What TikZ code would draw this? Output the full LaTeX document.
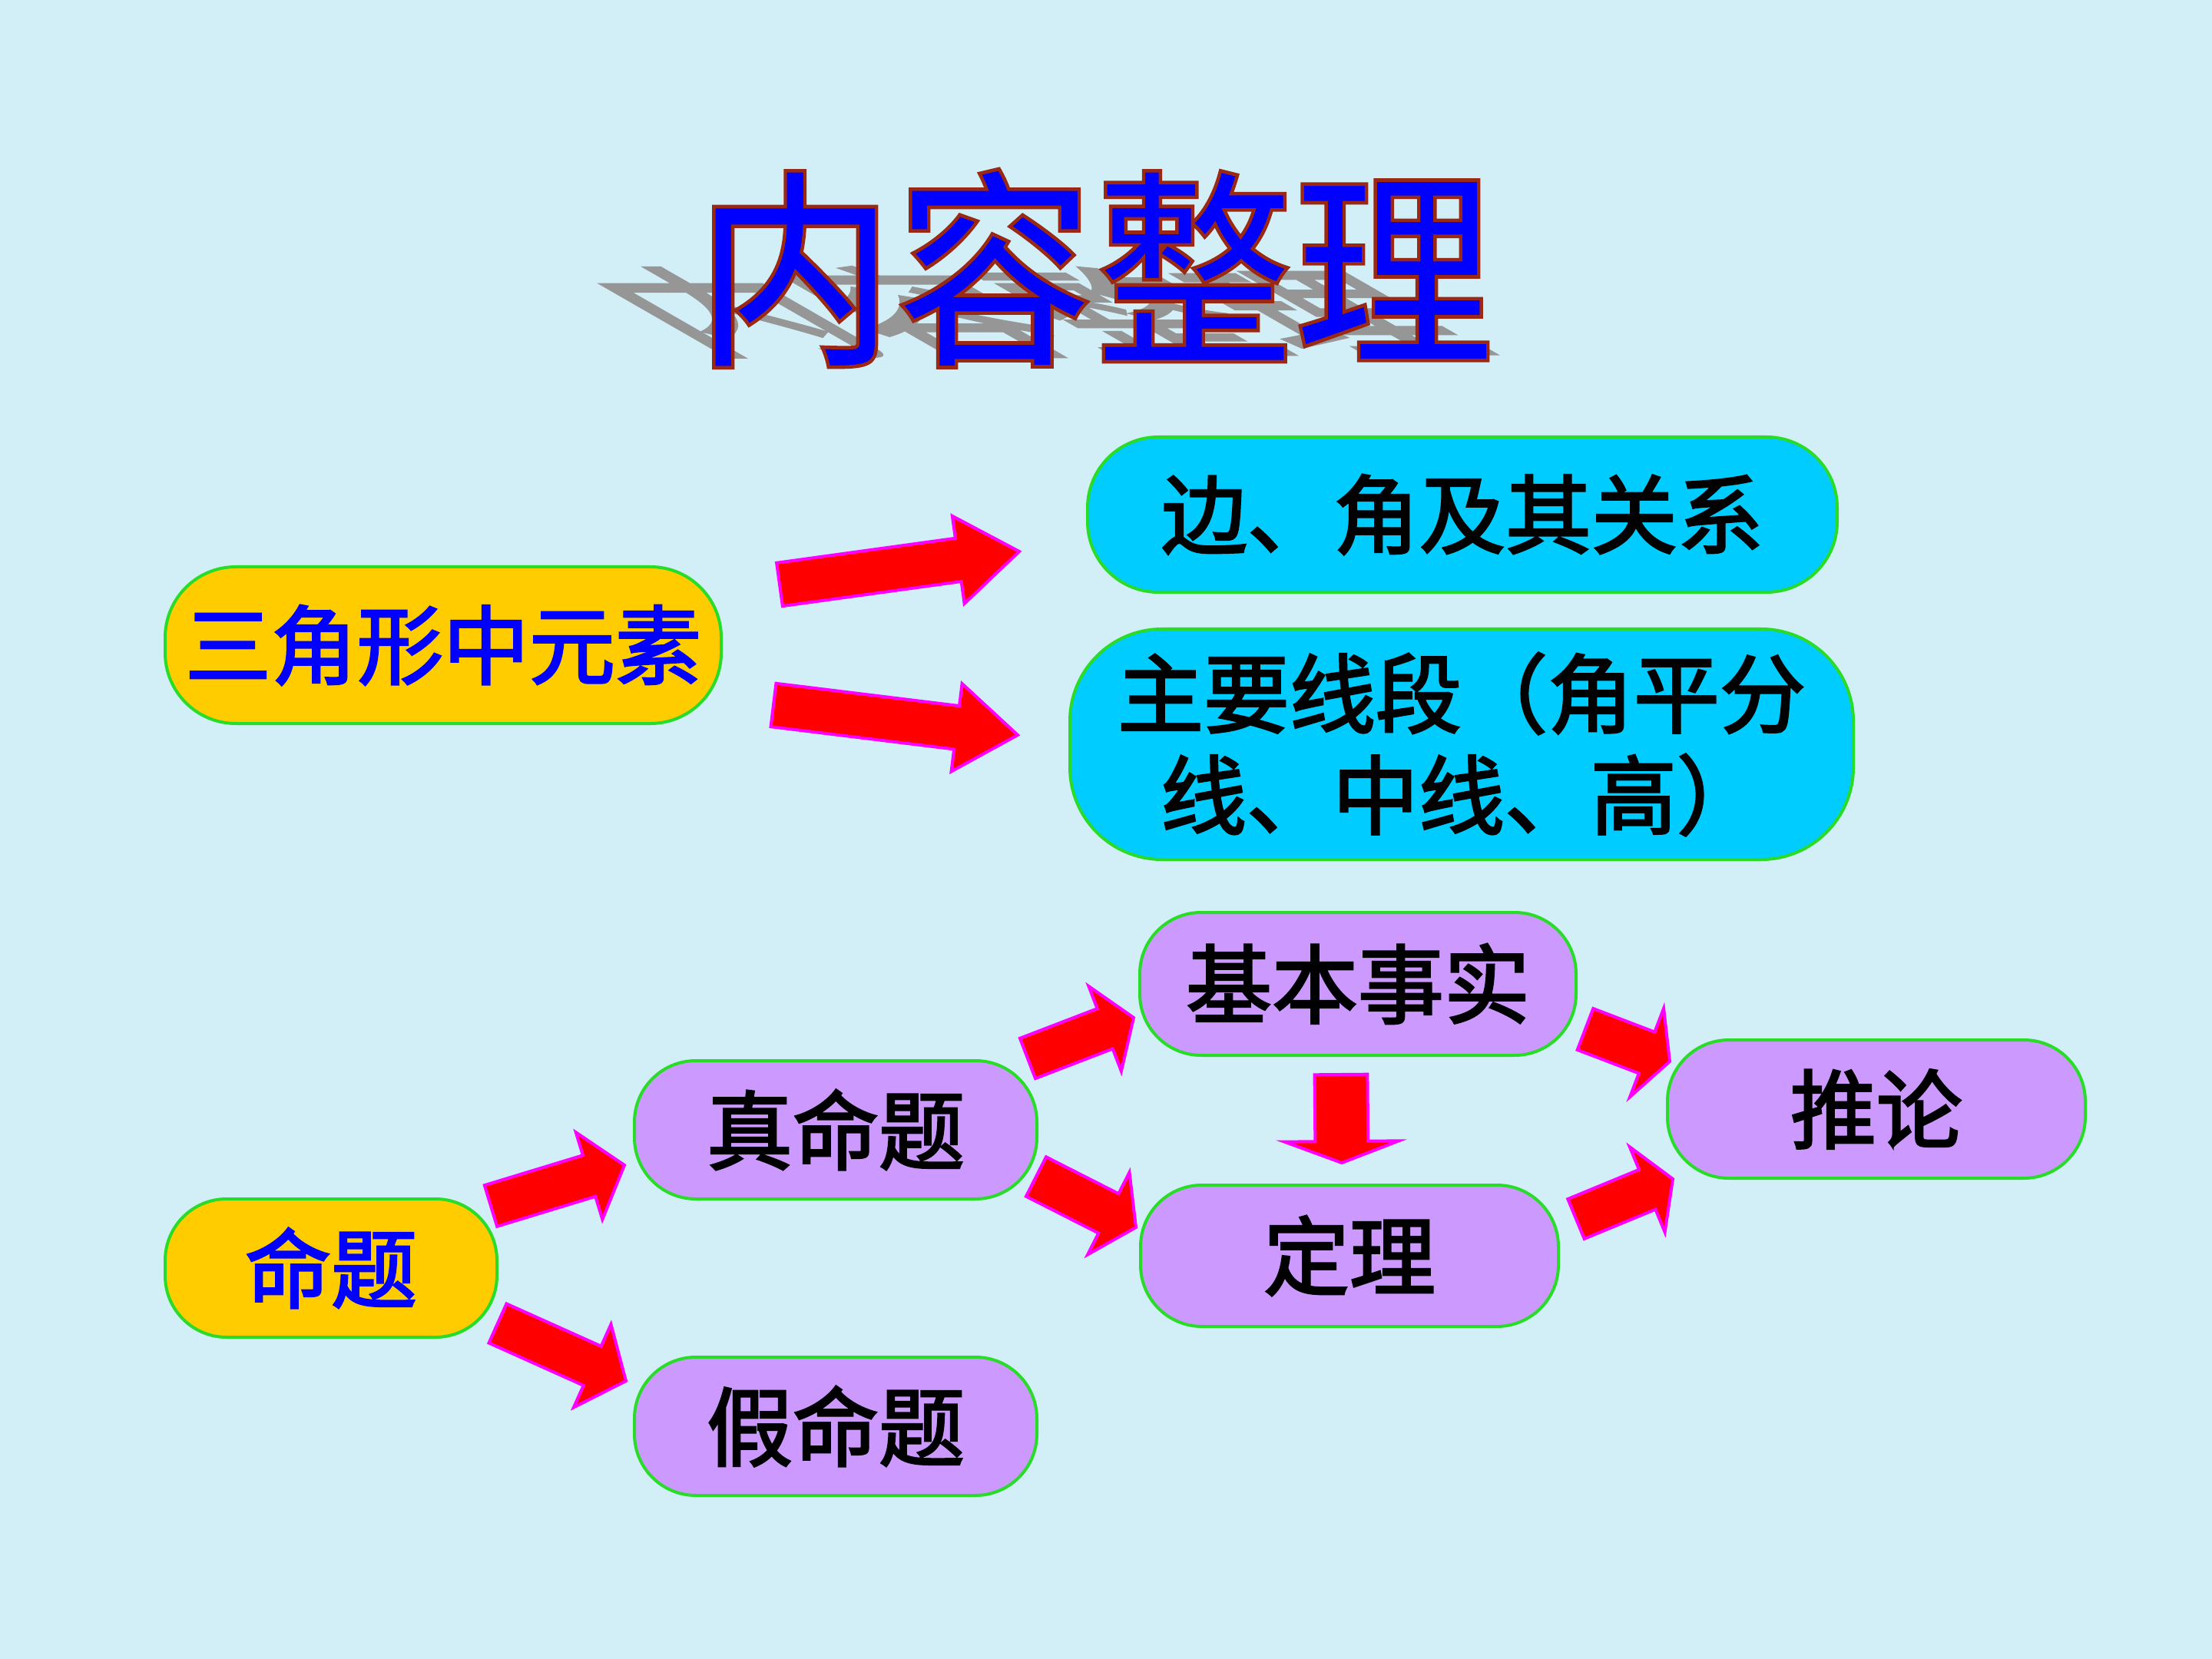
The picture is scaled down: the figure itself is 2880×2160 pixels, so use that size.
\documentclass[tikz,border=0pt]{standalone}
\usepackage{fontspec}
\usetikzlibrary{calc}
\newfontfamily\cjk{Noto Sans CJK SC}[UprightFont=* Medium]
\newfontfamily\cjkmid{Noto Sans CJK SC}[FakeBold=2.5]
\definecolor{bgblue}{RGB}{210,238,246}
\definecolor{boxline}{RGB}{40,220,40}
\definecolor{boxyellow}{RGB}{255,204,0}
\definecolor{boxcyan}{RGB}{0,204,255}
\definecolor{boxpurple}{RGB}{204,153,255}
\definecolor{textblue}{RGB}{0,0,255}
\definecolor{shadowgray}{RGB}{150,150,150}
\definecolor{arrowred}{RGB}{255,0,0}
\definecolor{arrowrim}{RGB}{255,0,255}
% outlined text: fill plus dark red stroke
\newcommand\rimtext[1]{\special{pdf:literal direct 2 Tr 0.6 0.16 0.08 RG 1.1 w}#1\special{pdf:literal direct 0 Tr}}

\tikzset{
  pill/.style={draw=boxline, line width=1pt, inner sep=0pt, align=center,
    rounded corners=20pt, font=\cjkmid\fontsize{28}{33}\selectfont},
  yellowpill/.style={pill, fill=boxyellow, text=textblue},
  cyanpill/.style={pill, fill=boxcyan, text=black},
  purplepill/.style={pill, fill=boxpurple, text=black},
  fatarrow/.style={fill=arrowred, draw=arrowrim, line width=1pt, line join=miter}
}

% tail, tip, half shaft, half head, head length
\newcommand\fatarrow[5]{%
  \coordinate (fa-base) at ($(#2)!#5!(#1)$);
  \draw[fatarrow] ($(#1)!#3!90:(#2)$) -- ($(fa-base)!#3!90:(#2)$)
    -- ($(fa-base)!#4!90:(#2)$) -- (#2)
    -- ($(fa-base)!#4!-90:(#2)$) -- ($(fa-base)!#3!-90:(#2)$)
    -- ($(#1)!#3!-90:(#2)$) -- cycle;
}

\begin{document}
\begin{tikzpicture}[x=0.25pt, y=-0.25pt]
  \useasboundingbox (0,0) rectangle (2880,2160);
  \fill[bgblue] (0,0) rectangle (2880,2160);

  % title with its shadow
  \begin{scope}[shift={(1425,455)}, cm={1,0,-0.8,0.46,(0,0)}]
    \node[transform shape, anchor=base, text=shadowgray,
      font=\cjkmid\fontsize{65}{70}\selectfont] (shade) {\scalebox{1}[1.06]{内容整理}};
  \end{scope}
  \node[anchor=base, text=textblue, font=\cjk\fontsize{65}{70}\selectfont]
    (title) at (1425,455) {\scalebox{1}[1.06]{\rimtext{内容整理}}};

  % triangle part
  \node[yellowpill, minimum width=181pt, minimum height=51pt, rounded corners=23pt]
    (tri) at (577,840) {三角形中元素};
  \node[cyanpill, minimum width=244pt, minimum height=50.5pt, rounded corners=23pt]
    (bian) at (1904,670) {边、角及其关系};
  \node[cyanpill, minimum width=255pt, minimum height=75pt, rounded corners=30pt]
    (xian) at (1903,969) {主要线段（角平分\\线、中线、高）};

  % proposition part
  \node[yellowpill, minimum width=108pt, minimum height=45pt] (mt) at (431,1651) {命题};
  \node[purplepill, minimum width=131pt, minimum height=45pt] (zhen) at (1088,1471) {真命题};
  \node[purplepill, minimum width=131pt, minimum height=45pt] (jia) at (1088,1857) {假命题};
  \node[purplepill, minimum width=142pt, minimum height=46.5pt] (jb) at (1768,1281) {基本事实};
  \node[purplepill, minimum width=136pt, minimum height=46pt] (dl) at (1757,1635) {定理};
  \node[purplepill, minimum width=136pt, minimum height=45pt] (tl) at (2443,1444) {推论};

  % arrow ends
  \coordinate (a1s) at (1015,761);  \coordinate (a1e) at (1327,718);
  \coordinate (a2s) at (1007,918);  \coordinate (a2e) at (1325,957);
  \coordinate (b1s) at (639,1570);  \coordinate (b1e) at (813,1517);
  \coordinate (b2s) at (648,1723);  \coordinate (b2e) at (815,1798);
  \coordinate (c1s) at (1338,1378); \coordinate (c1e) at (1476,1325);
  \coordinate (c2s) at (1349,1532); \coordinate (c2e) at (1479,1598);
  \coordinate (ds) at (1746,1399);  \coordinate (de) at (1747,1514);
  \coordinate (e1s) at (2064,1340); \coordinate (e1e) at (2174,1382);
  \coordinate (e2s) at (2052,1587); \coordinate (e2e) at (2178,1535);

  \fatarrow{a1s}{a1e}{7.1pt}{14.4pt}{20pt}
  \fatarrow{a2s}{a2e}{7.1pt}{14.4pt}{20pt}
  \fatarrow{b1s}{b1e}{7pt}{14.8pt}{12pt}
  \fatarrow{b2s}{b2e}{7pt}{14.8pt}{12pt}
  \fatarrow{c1s}{c1e}{7pt}{14.8pt}{10pt}
  \fatarrow{c2s}{c2e}{7.2pt}{15pt}{10pt}
  \fatarrow{ds}{de}{8.6pt}{18.6pt}{7pt}
  \fatarrow{e1s}{e1e}{7.2pt}{15.4pt}{8pt}
  \fatarrow{e2s}{e2e}{7pt}{15pt}{9pt}
\end{tikzpicture}
\end{document}
